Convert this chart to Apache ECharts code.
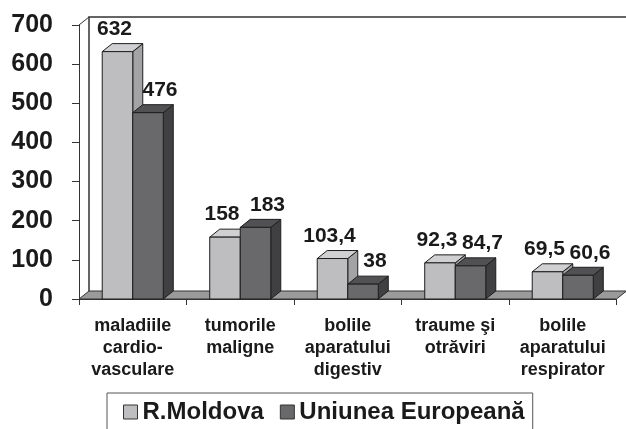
<!DOCTYPE html>
<html>
<head>
<meta charset="utf-8">
<script src="https://cdn.jsdelivr.net/npm/echarts@6/dist/echarts.min.js"></script>
<style>html,body{margin:0;padding:0;background:#fff}#c{width:626px;height:429px}</style>
</head>
<body>
<div id="c"></div>
<script>
const categories = ['maladiile\ncardio-\nvasculare', 'tumorile\nmaligne', 'bolile\naparatului\ndigestiv', 'traume şi\notrăviri', 'bolile\naparatului\nrespirator'];
const moldova = [632, 158, 103.4, 92.3, 69.5];
const europe = [476, 183, 38, 84.7, 60.6];
const seriesNames = ['R.Moldova', 'Uniunea Europeană'];
const yTicks = [0, 100, 200, 300, 400, 500, 600, 700];

const FONT = '"Liberation Sans", Arial, sans-serif';
const DX = 10, DY = -8;
const palettes = [
  {front: '#bebec0', top: '#d0d0d2', side: '#a3a3a5'},
  {front: '#69696b', top: '#515153', side: '#404042'}
];
const EDGE = '#1e1e1e';

function fmt(v) { return String(v).replace('.', ','); }

function barRender(si, labelDx) {
  const pal = palettes[si];
  return function (params, api) {
    const ci = api.value(0), v = api.value(1);
    const base = api.coord([ci, 0]);
    const top = api.coord([ci, v]);
    const band = api.size([1, 0])[0];
    const bw = band * 0.284;
    const x0 = si === 0 ? base[0] - bw : base[0];
    const x1 = x0 + bw;
    const yb = base[1], yt = top[1];
    const st = {stroke: EDGE, lineWidth: 1};
    return {
      type: 'group',
      children: [
        {type: 'polygon', shape: {points: [[x1, yb], [x1 + DX, yb + DY], [x1 + DX, yt + DY], [x1, yt]]}, style: Object.assign({fill: pal.side}, st)},
        {type: 'polygon', shape: {points: [[x0, yt], [x0 + DX, yt + DY], [x1 + DX, yt + DY], [x1, yt]]}, style: Object.assign({fill: pal.top}, st)},
        {type: 'rect', shape: {x: x0, y: yt, width: bw, height: yb - yt}, style: Object.assign({fill: pal.front}, st)},
        {type: 'text', x: (x0 + x1) / 2 + labelDx, y: yt - 12, style: {text: fmt(v), fill: '#1a1a1a', font: 'bold 21px ' + FONT, textAlign: 'center', textVerticalAlign: 'bottom'}}
      ]
    };
  };
}

function wallRender(params, api) {
  const cs = params.coordSys;
  const p0 = api.coord([0, 0]);
  const p7 = api.coord([0, 700]);
  const xl = cs.x, xr = cs.x + cs.width;
  const yb = p0[1], yt = p7[1];
  return {
    type: 'group',
    children: [
      {type: 'polyline', shape: {points: [[xl + DX, yb + DY], [xl + DX, yt + DY], [626, yt + DY]]}, style: {stroke: '#333', lineWidth: 1.5, fill: null}},
      {type: 'line', shape: {x1: xl, y1: yt, x2: xl + DX, y2: yt + DY}, style: {stroke: '#333', lineWidth: 1}},
      {type: 'polygon', shape: {points: [[xl, yb], [xl + DX, yb + DY], [xr + DX, yb + DY], [xr, yb]]}, style: {fill: '#9a9a9a', stroke: '#333', lineWidth: 1}}
    ]
  };
}

const chart = echarts.init(document.getElementById('c'), null, {renderer: 'canvas'});
chart.setOption({
  animation: false,
  backgroundColor: '#fff',
  grid: {left: 79, right: 9.5, top: 25, bottom: 130, containLabel: false},
  xAxis: {
    type: 'category',
    data: categories,
    boundaryGap: true,
    axisLine: {show: true, lineStyle: {color: '#333', width: 1}},
    axisTick: {show: true, length: 6, lineStyle: {color: '#333'}},
    axisLabel: {interval: 0, margin: 16, color: '#1a1a1a', fontFamily: FONT, fontWeight: 'bold', fontSize: 18, lineHeight: 22, align: 'center'},
    splitLine: {show: false}
  },
  yAxis: {
    type: 'value',
    min: yTicks[0], max: yTicks[yTicks.length - 1], interval: 100,
    axisLine: {show: true, lineStyle: {color: '#333', width: 1}},
    axisTick: {show: true, length: 7, lineStyle: {color: '#333'}},
    axisLabel: {margin: 26, color: '#1a1a1a', fontFamily: FONT, fontWeight: 'bold', fontSize: 25},
    splitLine: {show: false}
  },
  legend: {
    left: 107, top: 393,
    padding: [7, 8, 14, 16],
    itemGap: 16, itemWidth: 14, itemHeight: 14,
    borderColor: '#555', borderWidth: 1,
    icon: 'rect',
    textStyle: {fontFamily: FONT, fontWeight: 'bold', fontSize: 24, color: '#1a1a1a'},
    data: [
      {name: seriesNames[0], itemStyle: {color: palettes[0].front, borderColor: '#333', borderWidth: 1}},
      {name: seriesNames[1], itemStyle: {color: palettes[1].front, borderColor: '#333', borderWidth: 1}}
    ]
  },
  series: [
    {type: 'custom', name: 'wall', renderItem: wallRender, data: [[0, 0]], silent: true, z: 1},
    {type: 'custom', name: seriesNames[0], renderItem: barRender(0, -3), itemStyle: {color: palettes[0].front}, data: moldova.map((v, i) => [i, v]), z: 2},
    {type: 'custom', name: seriesNames[1], renderItem: barRender(1, 12), itemStyle: {color: palettes[1].front}, data: europe.map((v, i) => [i, v]), z: 3}
  ]
});
</script>
</body>
</html>
